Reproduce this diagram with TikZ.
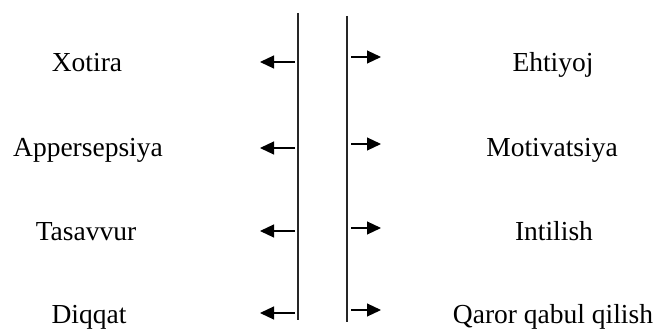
\documentclass[tikz,border=0pt]{standalone}
\usepackage{fontspec}
\setmainfont{Liberation Serif}
\usetikzlibrary{arrows.meta}
\begin{document}
\begin{tikzpicture}[x=1pt,y=-1pt,
  lbl/.style={anchor=base,inner sep=0pt,font=\fontsize{27.5}{33}\selectfont},
  vline/.style={line width=1.3pt,draw=black!85},
  arr/.style={line width=1.1pt,-{Triangle[length=14pt,width=13pt]}}]
\useasboundingbox (0,0) rectangle (659,329);
% vertical lines
\coordinate (L1) at (298,13);
\coordinate (L2) at (298,320);
\coordinate (R1) at (347,16);
\coordinate (R2) at (347,322);
\draw[vline] (L1) -- (L2);
\draw[vline] (R1) -- (R2);
% left labels
\node[lbl] (xot) at (87,71) {Xotira};
\node[lbl] (app) at (88,156) {Appersepsiya};
\node[lbl] (tas) at (86,240) {Tasavvur};
\node[lbl] (diq) at (89,323) {Diqqat};
% right labels
\node[lbl] (eht) at (553,71) {Ehtiyoj};
\node[lbl] (mot) at (552,156) {Motivatsiya};
\node[lbl] (int) at (554,240) {Intilish};
\node[lbl] (qar) at (553,323) {Qaror qabul qilish};
% left arrows
\foreach \y/\n in {62/a,148/b,231/c,313/d}{
  \coordinate (ls\n) at (295,\y);
  \coordinate (le\n) at (260,\y);
  \draw[arr] (ls\n) -- (le\n);
}
% right arrows
\foreach \y/\n in {57/a,144/b,228/c,310/d}{
  \coordinate (rs\n) at (351,\y);
  \coordinate (re\n) at (381,\y);
  \draw[arr] (rs\n) -- (re\n);
}
\end{tikzpicture}
\end{document}
